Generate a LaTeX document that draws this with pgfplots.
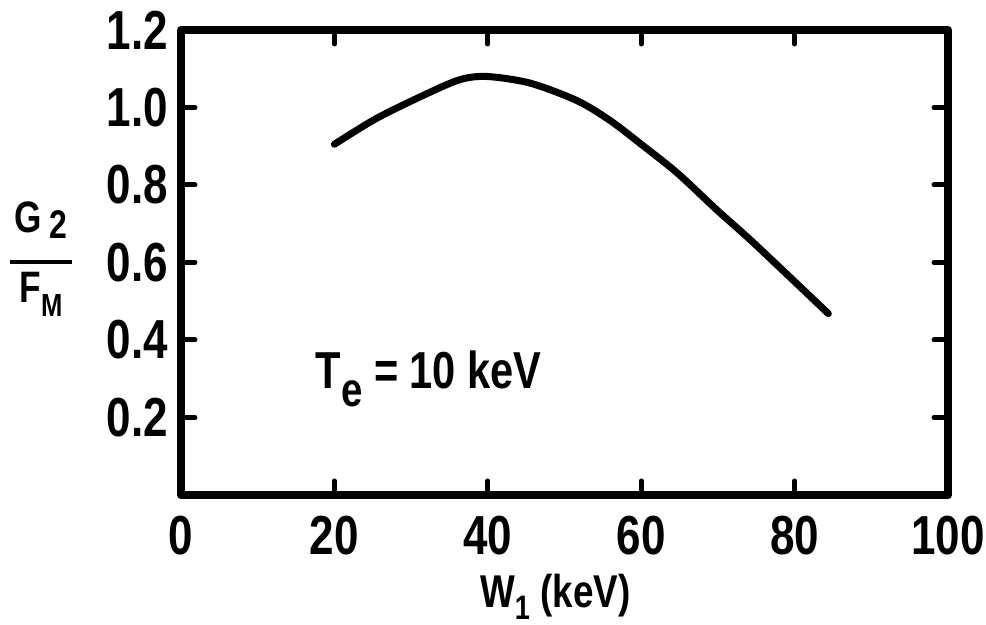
\documentclass[border=0pt]{standalone}
\usepackage{fontspec}
\setmainfont{Liberation Sans}[FakeStretch=0.8]
\usepackage{pgfplots}
\pgfplotsset{compat=1.18}
\begin{document}
\begin{tikzpicture}
\useasboundingbox (-90.5pt,-65pt) rectangle (402.5pt,247.5pt);
\begin{axis}[
  at={(0,0)}, anchor=south west,
  scale only axis,
  width=383.5pt, height=232.5pt,
  xmin=0, xmax=100, ymin=0, ymax=1.2,
  axis line style={line width=4pt, line cap=round, line join=round},
  xtick={0,20,40,60,80,100},
  ytick={0.2,0.4,0.6,0.8,1.0,1.2},
  yticklabels={0.2,0.4,0.6,0.8,1.0,1.2},
  tick align=inside,
  major tick length=7pt,
  tick style={line width=2.5pt, black, line cap=round},
  /pgf/number format/assume math mode=true,
  tick label style={font=\fontsize{27.5}{30}\selectfont\bfseries},
  xticklabel style={yshift=-7pt},
  yticklabel style={xshift=-3pt},
  clip=false,
]
\addplot[black, line width=3.5pt, line cap=round, smooth, tension=0.5] coordinates {
  (20,0.905) (25.5,0.972) (32.1,1.036) (36.4,1.072) (39.9,1.080)
  (45.5,1.063) (51.6,1.018) (55.9,0.967) (60.2,0.902) (64.7,0.831)
  (69.9,0.735) (74.2,0.659) (79.4,0.562) (84.4,0.468)
};
\node[font=\fontsize{26}{30}\selectfont\bfseries] at (axis cs:32.3,0.30)
  {T\raisebox{-9pt}{\fontsize{24}{26}\selectfont e} = 10 keV};
\node[font=\fontsize{23}{26}\selectfont\bfseries, anchor=north] at (rel axis cs:0.488,0) [yshift=-36pt]
  {W\raisebox{-6pt}{\fontsize{17}{20}\selectfont 1} (keV)};
\node[font=\fontsize{22}{24}\selectfont\bfseries] at (rel axis cs:0,0.51) [xshift=-70pt]
  {\begin{tabular}{@{}c@{}}G\,\raisebox{-3pt}{\fontsize{20}{22}\selectfont 2}\\[-8pt]\rule{31pt}{2.2pt}\\[-5pt]F\raisebox{-7pt}{\fontsize{16}{18}\selectfont M}\end{tabular}};
\end{axis}
\end{tikzpicture}
\end{document}
